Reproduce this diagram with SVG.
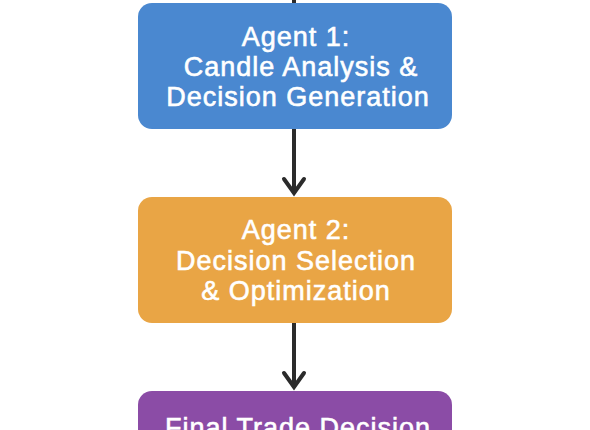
<svg xmlns="http://www.w3.org/2000/svg" width="590" height="430" viewBox="0 0 590 430">
<defs>
<style>
.box{stroke:none}
.lbl{font-family:"Liberation Sans",Arial,Helvetica,sans-serif;font-size:27px;letter-spacing:1px;fill:#ffffff;stroke:#ffffff;stroke-width:0.6px;text-anchor:middle}
.conn{stroke:#2b2b2b;stroke-width:4;fill:none;stroke-linecap:butt}
.head{stroke:#2b2b2b;stroke-width:4;fill:none;stroke-linejoin:miter;stroke-linecap:round}
</style>
</defs>
<rect width="590" height="430" fill="#ffffff"/>
<g id="connectors">
<line class="conn" x1="294" y1="0" x2="294" y2="4"/>
<line class="conn" x1="294" y1="129" x2="294" y2="192"/>
<polyline class="head" points="284,179 294,193 304,179"/>
<line class="conn" x1="294" y1="323" x2="294" y2="386"/>
<polyline class="head" points="284,373 294,387 304,373"/>
</g>
<g id="agent1">
<rect class="box" x="138" y="3" width="314" height="126" rx="14" fill="#4a88d0"/>
<text class="lbl" x="296" y="46">Agent 1:</text>
<text class="lbl" x="301" y="76">Candle Analysis &amp;</text>
<text class="lbl" x="298" y="106">Decision Generation</text>
</g>
<g id="agent2">
<rect class="box" x="138" y="197" width="314" height="126" rx="14" fill="#e9a545"/>
<text class="lbl" x="296" y="239">Agent 2:</text>
<text class="lbl" x="296" y="270">Decision Selection</text>
<text class="lbl" x="296" y="300">&amp; Optimization</text>
</g>
<g id="final">
<rect class="box" x="138" y="391" width="314" height="126" rx="14" fill="#8b4ca6"/>
<text class="lbl" x="298" y="437">Final Trade Decision</text>
</g>
</svg>
